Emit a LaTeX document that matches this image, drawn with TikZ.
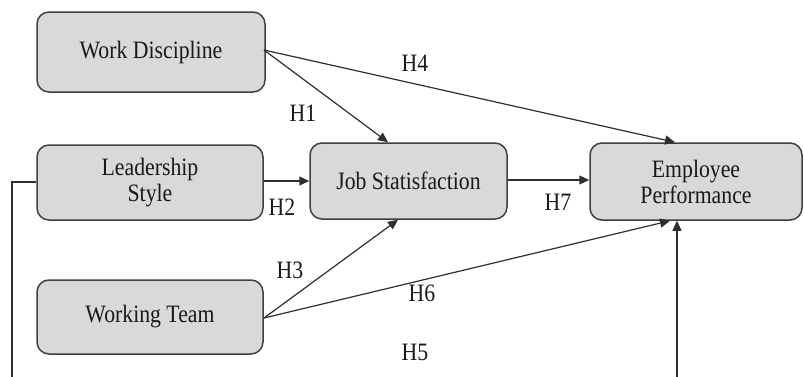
\documentclass[tikz,border=0pt]{standalone}
\usepackage{fontspec}
\setmainfont{Liberation Serif}[FakeStretch=0.87]
\usetikzlibrary{arrows.meta}
\definecolor{boxfill}{HTML}{D9D9D9}
\definecolor{boxline}{HTML}{404040}
\definecolor{conn}{HTML}{2E2E2E}
\begin{document}
\begin{tikzpicture}[x=1pt,y=-1pt,
  varbox/.style={draw=boxline, line width=1.5pt, fill=boxfill, rounded corners=12pt,
    align=center, inner sep=0pt, font=\fontsize{25}{26}\selectfont, text=black!90},
  link/.style={draw=conn, line width=1.2pt, -{Triangle[length=10pt,width=9pt]}},
  plain/.style={draw=conn, line width=1.2pt},
  hlab/.style={font=\fontsize{25}{26}\selectfont, text=black!90, inner sep=0pt}]
\useasboundingbox (0,0) rectangle (804,376);
\clip (0,0) rectangle (804,376);
\node[varbox, minimum width=228pt, minimum height=80pt] (wd) at (151,52) {Work Discipline};
\node[varbox, minimum width=226pt, minimum height=75pt] (ls) at (150,182.5) {Leadership\\Style};
\node[varbox, minimum width=197pt, minimum height=76pt] (js) at (408.5,181) {Job Statisfaction};
\node[varbox, minimum width=212pt, minimum height=77pt] (ep) at (696,181.5) {Employee\\Performance};
\node[varbox, minimum width=226pt, minimum height=74pt] (wt) at (150,317) {Working Team};
\coordinate (wdout) at (264,50);
\coordinate (wtout) at (264,318);
\coordinate (c1) at (12,182);
\coordinate (c2) at (12,395);
\coordinate (c3) at (677,395);
\draw[link] (wdout) -- (js.north -| 388,0);
\draw[link] (wdout) -- (ep.north -| 675,0);
\draw[link] (ls.east |- 0,181) -- (js.west |- 0,181);
\draw[link] (js.east |- 0,180) -- (ep.west |- 0,180);
\draw[link] (wtout) -- (js.south -| 398,0);
\draw[link] (wtout) -- (ep.south -| 670,0);
\draw[plain] (ls.west |- c1) -- (c1) -- (c2) -- (c3);
\draw[link] (c3) -- (ep.south -| c3);
\node[hlab] (h4) at (415,63) {H4};
\node[hlab] (h1) at (303,113) {H1};
\node[hlab] (h2) at (282,207) {H2};
\node[hlab] (h7) at (558,202) {H7};
\node[hlab] (h3) at (290,270) {H3};
\node[hlab] (h6) at (422,293) {H6};
\node[hlab] (h5) at (415,352) {H5};
\end{tikzpicture}
\end{document}
